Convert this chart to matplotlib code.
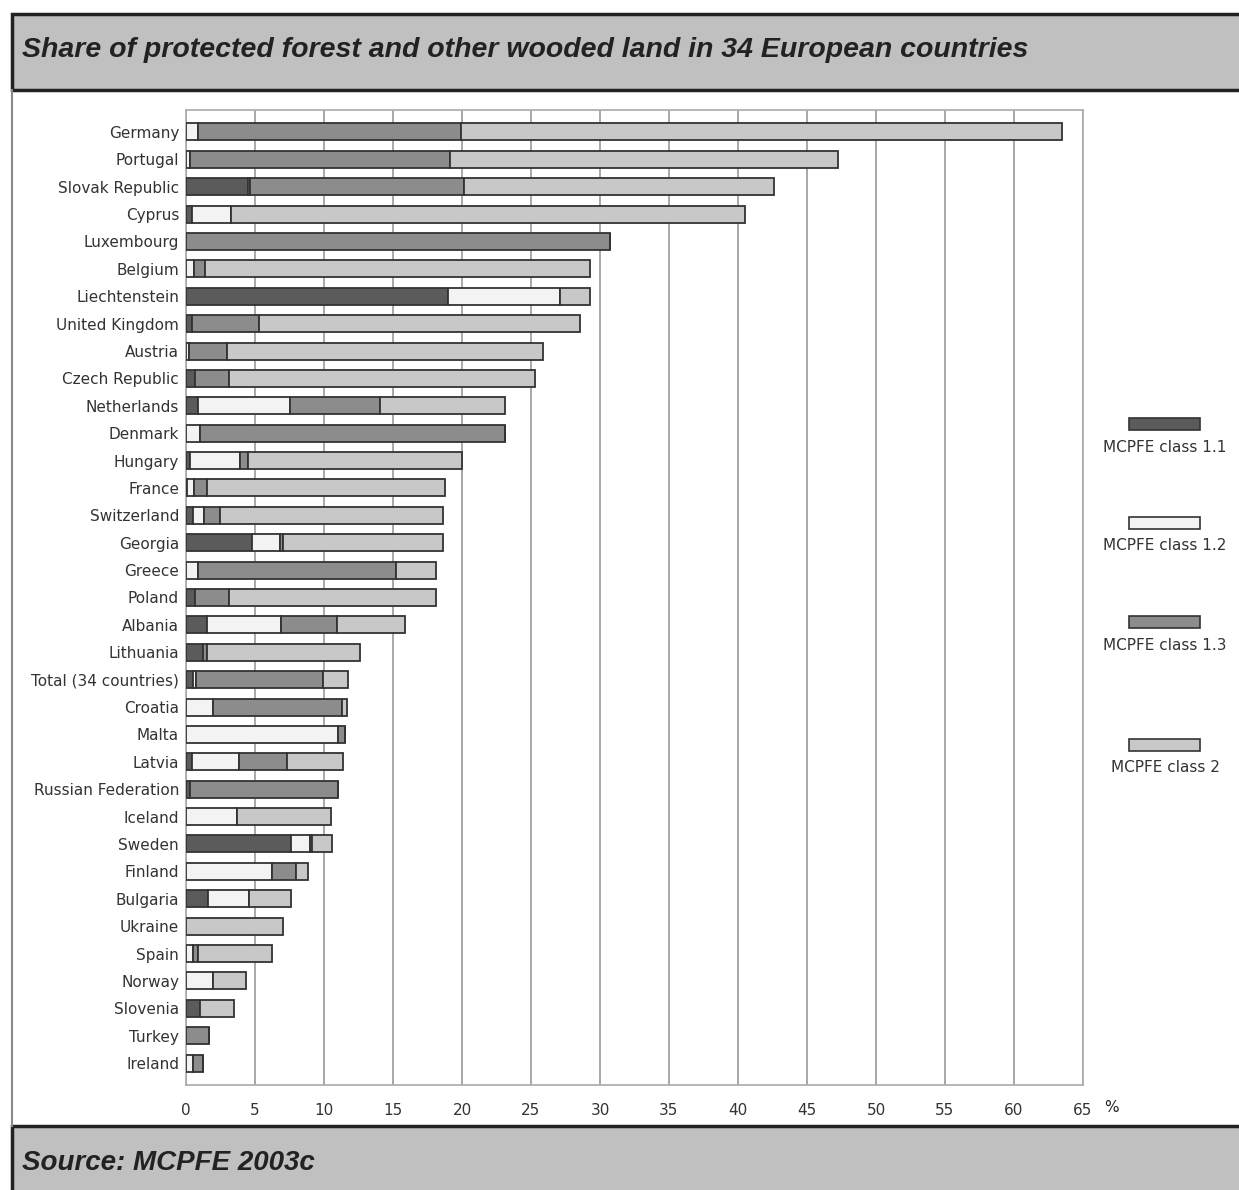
import numpy as np
import matplotlib
matplotlib.use("Agg")
import matplotlib.pyplot as plt
from matplotlib.patches import Rectangle

countries = ["Germany", "Portugal", "Slovak Republic", "Cyprus", "Luxembourg",
             "Belgium", "Liechtenstein", "United Kingdom", "Austria", "Czech Republic",
             "Netherlands", "Denmark", "Hungary", "France", "Switzerland", "Georgia",
             "Greece", "Poland", "Albania", "Lithuania", "Total (34 countries)",
             "Croatia", "Malta", "Latvia", "Russian Federation", "Iceland", "Sweden",
             "Finland", "Bulgaria", "Ukraine", "Spain", "Norway", "Slovenia",
             "Turkey", "Ireland"]

# shares in %
class_11 = [0.0, 0.0, 4.5, 0.4, 0.0, 0.0, 19.0, 0.4, 0.0, 0.65,
            0.85, 0.0, 0.3, 0.1, 0.5, 4.8, 0.0, 0.65, 1.5, 1.2, 0.5,
            0.0, 0.0, 0.4, 0.3, 0.0, 7.6, 0.0, 1.6, 0.0, 0.0, 0.0, 1.0,
            0.0, 0.0]
class_12 = [0.85, 0.3, 0.15, 2.85, 0.0, 0.6, 8.1, 0.0, 0.25, 0.0,
            6.7, 1.0, 3.6, 0.5, 0.8, 2.0, 0.85, 0.0, 5.4, 0.0, 0.25,
            1.95, 11.05, 3.45, 0.0, 3.7, 1.4, 6.2, 3.0, 0.0, 0.5, 1.95, 0.0,
            0.0, 0.5]
class_13 = [19.05, 18.8, 15.5, 0.0, 30.7, 0.75, 0.0, 4.9, 2.75, 2.5,
            6.5, 22.15, 0.6, 0.9, 1.15, 0.2, 14.4, 2.5, 4.05, 0.3, 9.2,
            9.35, 0.5, 3.45, 10.7, 0.0, 0.15, 1.8, 0.0, 0.0, 0.35, 0.0, 0.0,
            1.7, 0.75]
class_2 = [43.6, 28.15, 22.45, 37.25, 0.0, 27.9, 2.2, 23.25, 22.9, 22.15,
           9.05, 0.0, 15.5, 17.3, 16.15, 11.6, 2.9, 14.95, 4.9, 11.1, 1.8,
           0.35, 0.0, 4.1, 0.0, 6.8, 1.45, 0.85, 3.0, 7.0, 5.4, 2.4, 2.5,
           0.0, 0.0]

series = [class_11, class_12, class_13, class_2]
labels = ["MCPFE class 1.1", "MCPFE class 1.2", "MCPFE class 1.3", "MCPFE class 2"]
colors = ["#5b5b5b", "#f3f3f3", "#8c8c8c", "#c8c8c8"]

W, H = 1239, 1190
fig = plt.figure(figsize=(W / 100, H / 100), dpi=100)
fig.patch.set_facecolor("white")

# header and footer bands
fig.patches.append(Rectangle((12 / W, 1 - 90 / H), 1, 76 / H, transform=fig.transFigure,
                             facecolor="#c0c0c0", edgecolor="#222222", linewidth=2.5))
fig.patches.append(Rectangle((12 / W, -0.01), 1, (1190 - 1126) / H + 0.01, transform=fig.transFigure,
                             facecolor="#c0c0c0", edgecolor="#222222", linewidth=2.5))
fig.add_artist(plt.Line2D([12 / W, 12 / W], [1 - 1126 / H, 1 - 90 / H], transform=fig.transFigure,
                          color="#888888", linewidth=1.5))
fig.text(22 / W, 1 - 50 / H, "Share of protected forest and other wooded land in 34 European countries",
         fontsize=20.5, fontweight="bold", fontstyle="italic", family="Liberation Sans",
         color="#222222", va="center", ha="left")
fig.text(22 / W, 1 - 1163 / H, "Source: MCPFE 2003c",
         fontsize=20, fontweight="bold", fontstyle="italic", family="Liberation Sans",
         color="#222222", va="center", ha="left")

ax = fig.add_axes([186 / W, 1 - 1085 / H, (1083 - 186) / W, (1085 - 110) / H])
y = np.arange(len(countries))
left = np.zeros(len(countries))
for vals, col in zip(series, colors):
    vals = np.array(vals)
    ax.barh(y, vals, left=left, height=0.62, color=col, edgecolor="#333333",
            linewidth=1.3, zorder=3)
    left = left + vals

ax.set_xlim(0, 65)
ax.set_ylim(len(countries) - 0.2, -0.8)
ax.set_xticks(np.arange(0, 66, 5))
ax.set_yticks(y)
ax.set_yticklabels(countries, fontsize=11, color="#222222", family="DejaVu Sans")
ax.tick_params(axis="both", length=0, labelsize=11, labelcolor="#333333")
ax.tick_params(axis="x", pad=13)
ax.tick_params(axis="y", pad=5)
ax.grid(axis="x", color="#999999", linewidth=1.2, zorder=0)
for s in ax.spines.values():
    s.set_color("#aaaaaa")
    s.set_linewidth(1.2)
fig.text(1104 / W, 1 - 1107 / H, "%", fontsize=11, color="#222222", va="center", ha="left")

# legend on the right
leg_y = [424, 523, 622, 745]
for yy, col, lab in zip(leg_y, colors, labels):
    fig.patches.append(Rectangle((1129 / W, 1 - (yy + 6) / H), 71 / W, 12 / H,
                                 transform=fig.transFigure, facecolor=col,
                                 edgecolor="#333333", linewidth=1.2))
    fig.text(1165 / W, 1 - (yy + 23) / H, lab, fontsize=11, color="#333333",
             ha="center", va="center")

fig.savefig("out.png", dpi=100)
